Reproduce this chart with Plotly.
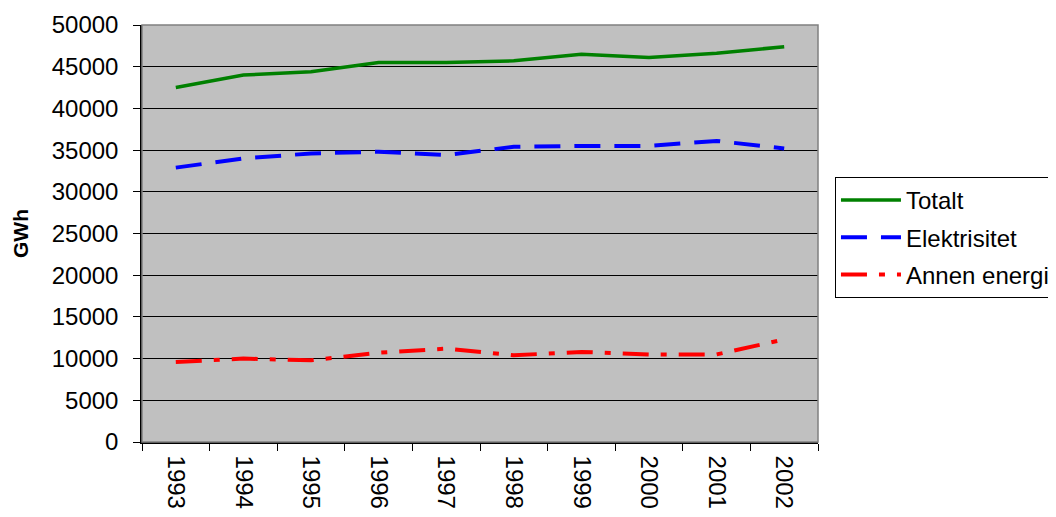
import plotly.graph_objects as go

years = ["1993", "1994", "1995", "1996", "1997", "1998", "1999", "2000", "2001", "2002"]
totalt = [42500, 44000, 44400, 45500, 45500, 45700, 46500, 46100, 46600, 47400]
elektrisitet = [32900, 34000, 34600, 34800, 34400, 35400, 35500, 35500, 36100, 35200]
annen_energi = [9600, 10000, 9800, 10700, 11200, 10400, 10800, 10500, 10500, 12300]

FONT = "Liberation Sans, Arial, sans-serif"

fig = go.Figure()
fig.add_trace(go.Scatter(x=years, y=totalt, name="Totalt", mode="lines", legendgroup="g1",
                         line=dict(color="#008000", width=3.5)))
fig.add_trace(go.Scatter(x=years, y=elektrisitet, name="Elektrisitet", mode="lines", legendgroup="g2",
                         line=dict(color="#0000FF", width=4, dash="26px,14px")))
fig.add_trace(go.Scatter(x=years, y=annen_energi, name="Annen energi", mode="lines", legendgroup="g3",
                         line=dict(color="#FF0000", width=4, dash="26px,12px,6px,12px")))

# the page body has an 8px margin, so the figure is 8px smaller than the window
fig.update_layout(
    width=1048, height=509,
    margin=dict(l=134, r=238, t=17, b=75, autoexpand=False),
    paper_bgcolor="white",
    plot_bgcolor="#C0C0C0",
    font=dict(family=FONT, size=24, color="black"),
    showlegend=True,
    legend=dict(x=1.0251, y=0.6355, xanchor="left", yanchor="top",
                bordercolor="black", borderwidth=1, bgcolor="white",
                font=dict(size=24, family=FONT), tracegroupgap=3,
                itemwidth=60),
    shapes=[dict(type="rect", xref="paper", yref="paper", x0=0, x1=1, y0=0, y1=1,
                 line=dict(color="#808080", width=1.5), layer="above")],
)
fig.update_xaxes(
    type="category", tickangle=90, tickson="boundaries",
    ticks="outside", ticklen=7, tickcolor="black", tickwidth=1,
    showline=True, linecolor="black", linewidth=1.5, mirror=False,
    showgrid=False, ticklabelstandoff=7, automargin=False,
    tickfont=dict(size=24, family=FONT), range=[-0.5, 9.5],
)
fig.update_yaxes(
    range=[0, 50000], dtick=5000, tickformat="d",
    ticks="outside", ticklen=7, tickcolor="black",
    showline=True, linecolor="black", linewidth=1.5,
    showgrid=True, gridcolor="black", gridwidth=1.2,
    zeroline=False, automargin=False, ticklabelstandoff=10,
    tickfont=dict(size=24, family=FONT),
    title=dict(text="<b>GWh</b>", font=dict(size=21, family=FONT), standoff=17),
)

fig.write_html("out.html")
